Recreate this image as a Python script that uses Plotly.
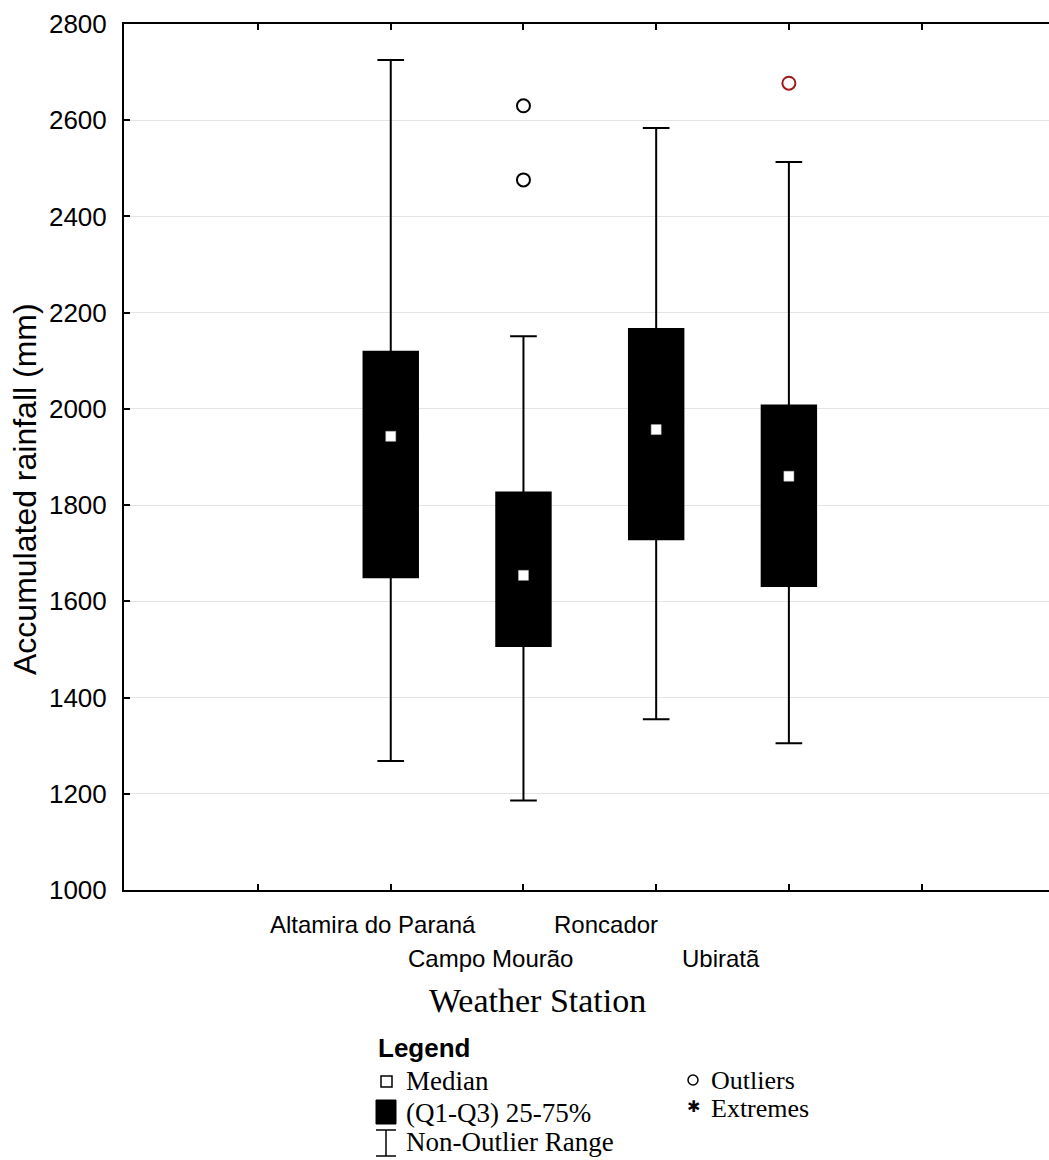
import plotly.graph_objects as go

# ---- data ----
stations = ["Altamira do Paraná", "Campo Mourão", "Roncador", "Ubiratã"]
positions = [1, 2, 3, 4]
q1 = [1650, 1507, 1729, 1632]
median = [1943, 1654, 1957, 1860]
q3 = [2119, 1826, 2166, 2007]
lower_whisker = [1268, 1186, 1355, 1305]
upper_whisker = [2725, 2151, 2584, 2513]
outlier_station = ["Campo Mourão", "Campo Mourão", "Ubiratã"]
outlier_value = [2630, 2476, 2677]
outlier_color = ["black", "black", "#9e1a1a"]
y_ticks = [1000, 1200, 1400, 1600, 1800, 2000, 2200, 2400, 2600, 2800]

W, H = 1049, 1160
L, R, T, B = 124, 0, 24, 270
PW, PH = W - L - R, H - T - B


def px(xp):
    return (xp - L) / PW


def py(yp):
    return (H - B - yp) / PH


fig = go.Figure()
for i, name in enumerate(stations):
    fig.add_trace(go.Box(
        x=[positions[i]], q1=[q1[i]], median=[median[i]], q3=[q3[i]],
        lowerfence=[lower_whisker[i]], upperfence=[upper_whisker[i]],
        boxpoints=False, fillcolor="black",
        line=dict(color="black", width=2),
        width=0.41, whiskerwidth=0.49, showlegend=False, name=name,
        hoverinfo="skip"))

fig.add_trace(go.Scatter(
    x=positions, y=median, mode="markers", showlegend=False,
    marker=dict(symbol="square", size=10, color="white",
                line=dict(width=0.5, color="#bbbbbb")),
    hoverinfo="skip"))

pos_map = dict(zip(stations, positions))
fig.add_trace(go.Scatter(
    x=[pos_map[s] for s in outlier_station], y=outlier_value, mode="markers",
    showlegend=False,
    marker=dict(symbol="circle-open", size=13, color=outlier_color,
                line=dict(width=2, color=outlier_color)),
    hoverinfo="skip"))

# invisible trace to activate top axis
fig.add_trace(go.Scatter(x=[0], y=[2800], xaxis="x2", mode="markers",
                         marker=dict(opacity=0), showlegend=False,
                         hoverinfo="skip"))

axis_common = dict(showline=True, linewidth=2, linecolor="black",
                   ticks="inside", ticklen=6, tickwidth=2, tickcolor="black",
                   zeroline=False, showgrid=False, showticklabels=False,
                   tickvals=[0, 1, 2, 3, 4, 5], range=[-1.01, 5.96])

fig.update_layout(
    width=W, height=H,
    margin=dict(l=L, r=R, t=T, b=B),
    paper_bgcolor="white", plot_bgcolor="white",
    font=dict(family="Liberation Sans, Arial, sans-serif", color="black"),
    xaxis=axis_common,
    xaxis2=dict(**axis_common, overlaying="x", matches="x", side="top"),
    yaxis=dict(range=[1000, 2800], tickvals=y_ticks, showline=True,
               linewidth=2, linecolor="black", ticks="inside", ticklen=6,
               tickwidth=2, tickcolor="black", zeroline=False,
               showgrid=True, gridcolor="#e4e4e4", gridwidth=1,
               tickfont=dict(size=26, family="Liberation Sans, Arial"),
               ticklabelstandoff=10),
)

# staggered category labels
label_shift = [-18, -33, -50, -68]
label_row_y = [925, 959, 925, 959]
for i, name in enumerate(stations):
    fig.add_annotation(x=positions[i], y=py(label_row_y[i]), xref="x", yref="paper",
                       text=name, showarrow=False, xanchor="center", yanchor="middle",
                       xshift=label_shift[i],
                       font=dict(size=24, family="Liberation Sans, Arial"))

fig.add_annotation(x=px(537), y=py(1000), xref="paper", yref="paper",
                   text="Weather Station", showarrow=False,
                   xanchor="center", yanchor="middle",
                   font=dict(size=34, family="Liberation Serif, Times New Roman, serif"))

fig.add_annotation(x=px(25), y=py(489), xref="paper", yref="paper",
                   text="Accumulated rainfall (mm)", showarrow=False, textangle=-90,
                   xanchor="center", yanchor="middle",
                   font=dict(size=32, family="Liberation Sans, Arial"))

# ---- legend block ----
serif = "Liberation Serif, Times New Roman, serif"
fig.add_annotation(x=px(376), y=py(1048), xref="paper", yref="paper",
                   text="<b>Legend</b>", showarrow=False, xanchor="left", yanchor="middle",
                   font=dict(size=26, family="Liberation Sans, Arial"))
leg_left = [("Median", 1081), ("(Q1-Q3) 25-75%", 1113), ("Non-Outlier Range", 1142)]
for txt, yy in leg_left:
    fig.add_annotation(x=px(404), y=py(yy), xref="paper", yref="paper", text=txt,
                       showarrow=False, xanchor="left", yanchor="middle",
                       font=dict(size=27, family=serif))
leg_right = [("Outliers", 1080), ("Extremes", 1108)]
for txt, yy in leg_right:
    fig.add_annotation(x=px(709), y=py(yy), xref="paper", yref="paper", text=txt,
                       showarrow=False, xanchor="left", yanchor="middle",
                       font=dict(size=26, family=serif))

# legend symbols
fig.add_shape(type="rect", xref="paper", yref="paper",
              x0=px(381), x1=px(392), y0=py(1087), y1=py(1076),
              line=dict(color="black", width=1.5), fillcolor="white")
fig.add_shape(type="rect", xref="paper", yref="paper",
              x0=px(376), x1=px(396), y0=py(1124), y1=py(1100),
              line=dict(color="black", width=1), fillcolor="black")
fig.add_shape(type="line", xref="paper", yref="paper",
              x0=px(376), x1=px(396), y0=py(1130), y1=py(1130),
              line=dict(color="black", width=1.5))
fig.add_shape(type="line", xref="paper", yref="paper",
              x0=px(386), x1=px(386), y0=py(1130), y1=py(1156),
              line=dict(color="black", width=1.5))
fig.add_shape(type="line", xref="paper", yref="paper",
              x0=px(376), x1=px(396), y0=py(1156), y1=py(1156),
              line=dict(color="black", width=1.5))
fig.add_shape(type="circle", xref="paper", yref="paper",
              x0=px(688), x1=px(698), y0=py(1085), y1=py(1075),
              line=dict(color="black", width=1.5), fillcolor="white")
fig.add_annotation(x=px(693), y=py(1106), xref="paper", yref="paper", text="✱",
                   showarrow=False, xanchor="center", yanchor="middle",
                   font=dict(size=16, family="DejaVu Sans"))

fig.write_html("out.html")
